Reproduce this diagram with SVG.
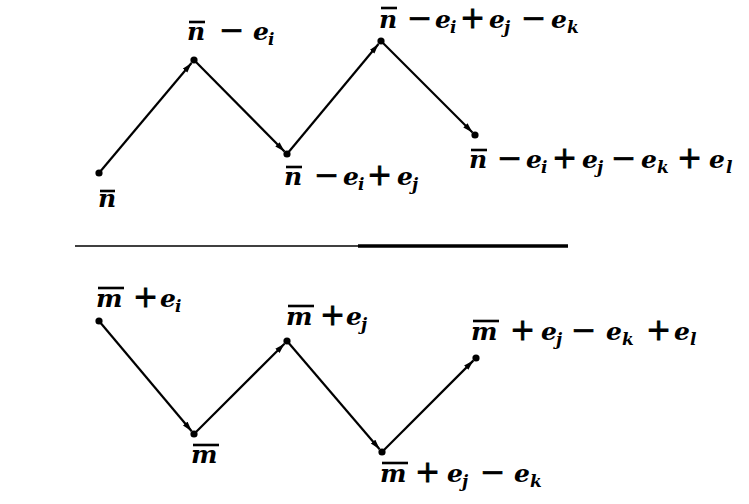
<svg xmlns="http://www.w3.org/2000/svg" width="749" height="504" viewBox="0 0 749 504">
<style>
.v{font-family:"DejaVu Serif",serif;font-style:italic;font-weight:bold;font-size:25px;fill:#000}
.s{font-size:17px}
.op{font-family:"DejaVu Sans",sans-serif;font-style:normal;font-weight:normal;font-size:30px;stroke:#000;stroke-width:0.8}
.bar{stroke:#000;stroke-width:2.6}
.dot{fill:#000}
.edge{stroke:#000;stroke-width:2.2;fill:none;marker-end:url(#ah)}
</style>
<defs>
<marker id="ah" markerUnits="userSpaceOnUse" markerWidth="12" markerHeight="8" refX="10" refY="3" orient="auto">
<path d="M0,0 L10,3 L0,6 Z" fill="#000"/>
</marker>
</defs>
<rect width="749" height="504" fill="#fff"/>
<g id="connectors">
<line class="edge" x1="99" y1="173" x2="191.5" y2="63"/>
<line class="edge" x1="194" y1="60" x2="284.5" y2="151.5"/>
<line class="edge" x1="287" y1="154" x2="378.5" y2="44"/>
<line class="edge" x1="381" y1="41" x2="472.5" y2="132.5"/>
<line class="edge" x1="99" y1="321" x2="191.7" y2="431.2"/>
<line class="edge" x1="194" y1="434" x2="284.5" y2="343.7"/>
<line class="edge" x1="287" y1="341" x2="379.6" y2="449.2"/>
<line class="edge" x1="382" y1="452" x2="473.3" y2="360.6"/>
</g>
<g id="separator">
<line x1="75" y1="246" x2="358" y2="246" stroke="#000" stroke-width="1.6"/>
<line x1="358" y1="246" x2="568" y2="246" stroke="#000" stroke-width="3.5"/>
</g>
<g id="n0">
<circle class="dot" cx="99" cy="173" r="3.6"/>
<line class="bar" x1="100" y1="191" x2="115" y2="191"/>
<text class="v"><tspan x="98" y="207">n</tspan></text>
</g>
<g id="n1">
<circle class="dot" cx="194" cy="60" r="3.6"/>
<line class="bar" x1="189" y1="22" x2="205" y2="22"/>
<text class="v"><tspan x="187" y="40">n</tspan><tspan class="op" x="219" y="40">−</tspan><tspan x="253" y="40">e</tspan><tspan class="s" x="268" y="45">i</tspan></text>
</g>
<g id="n2">
<circle class="dot" cx="287" cy="154" r="3.6"/>
<line class="bar" x1="286" y1="167" x2="302" y2="167"/>
<text class="v"><tspan x="284" y="185">n</tspan><tspan class="op" x="314" y="185">−</tspan><tspan x="343" y="185">e</tspan><tspan class="s" x="358" y="190">i</tspan><tspan class="op" x="367" y="185">+</tspan><tspan x="397" y="185">e</tspan><tspan class="s" x="412" y="190">j</tspan></text>
</g>
<g id="n3">
<circle class="dot" cx="381" cy="41" r="3.6"/>
<line class="bar" x1="381" y1="8" x2="397" y2="8"/>
<text class="v"><tspan x="379" y="28">n</tspan><tspan class="op" x="407" y="28">−</tspan><tspan x="435" y="28">e</tspan><tspan class="s" x="450" y="33">i</tspan><tspan class="op" x="460" y="28">+</tspan><tspan x="489" y="28">e</tspan><tspan class="s" x="504" y="33">j</tspan><tspan class="op" x="521" y="28">−</tspan><tspan x="551" y="28">e</tspan><tspan class="s" x="567" y="33">k</tspan></text>
</g>
<g id="n4">
<circle class="dot" cx="475" cy="135" r="3.6"/>
<line class="bar" x1="471" y1="150" x2="487" y2="150"/>
<text class="v"><tspan x="469" y="168">n</tspan><tspan class="op" x="497" y="168">−</tspan><tspan x="526" y="168">e</tspan><tspan class="s" x="541" y="173">i</tspan><tspan class="op" x="552" y="168">+</tspan><tspan x="582" y="168">e</tspan><tspan class="s" x="597" y="173">j</tspan><tspan class="op" x="611" y="168">−</tspan><tspan x="641" y="168">e</tspan><tspan class="s" x="657" y="173">k</tspan><tspan class="op" x="677" y="168">+</tspan><tspan x="709" y="168">e</tspan><tspan class="s" x="726" y="173">l</tspan></text>
</g>
<g id="m0">
<circle class="dot" cx="99" cy="321" r="3.6"/>
<line class="bar" x1="98" y1="288" x2="124" y2="288"/>
<text class="v"><tspan x="96" y="307">m</tspan><tspan class="op" x="133" y="307">+</tspan><tspan x="160" y="307">e</tspan><tspan class="s" x="175" y="312">i</tspan></text>
</g>
<g id="m1">
<circle class="dot" cx="194" cy="434" r="3.6"/>
<line class="bar" x1="193" y1="445" x2="219" y2="445"/>
<text class="v"><tspan x="191" y="463">m</tspan></text>
</g>
<g id="m2">
<circle class="dot" cx="287" cy="341" r="3.6"/>
<line class="bar" x1="288" y1="306" x2="314" y2="306"/>
<text class="v"><tspan x="286" y="325">m</tspan><tspan class="op" x="320" y="325">+</tspan><tspan x="346" y="325">e</tspan><tspan class="s" x="361" y="330">j</tspan></text>
</g>
<g id="m3">
<circle class="dot" cx="382" cy="452" r="3.6"/>
<line class="bar" x1="382" y1="463" x2="408" y2="463"/>
<text class="v"><tspan x="380" y="482">m</tspan><tspan class="op" x="415" y="482">+</tspan><tspan x="447" y="482">e</tspan><tspan class="s" x="462" y="487">j</tspan><tspan class="op" x="480" y="482">−</tspan><tspan x="514" y="482">e</tspan><tspan class="s" x="530" y="487">k</tspan></text>
</g>
<g id="m4">
<circle class="dot" cx="476" cy="358" r="3.6"/>
<line class="bar" x1="473" y1="321" x2="499" y2="321"/>
<text class="v"><tspan x="471" y="340">m</tspan><tspan class="op" x="510" y="340">+</tspan><tspan x="541" y="340">e</tspan><tspan class="s" x="556" y="345">j</tspan><tspan class="op" x="571" y="340">−</tspan><tspan x="606" y="340">e</tspan><tspan class="s" x="622" y="345">k</tspan><tspan class="op" x="646" y="340">+</tspan><tspan x="674" y="340">e</tspan><tspan class="s" x="690" y="345">l</tspan></text>
</g>
</svg>
